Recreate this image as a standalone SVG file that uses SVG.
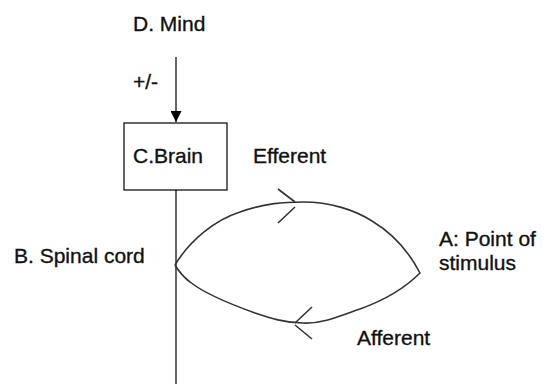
<svg xmlns="http://www.w3.org/2000/svg" width="547" height="387" viewBox="0 0 547 387">
<defs>
<style>
.t{font-family:"Liberation Sans",Arial,sans-serif;font-size:21px;fill:#111;stroke:#111;stroke-width:0.35}
.ln{stroke:#000;stroke-width:1.2;fill:none}
.cv{stroke:#333;stroke-width:1.6;fill:none;stroke-linejoin:round}
</style>
<marker id="ah" viewBox="0 0 10 10" refX="10" refY="5" markerWidth="11" markerHeight="11" markerUnits="userSpaceOnUse" orient="auto">
<path d="M0,0 L10,5 L0,10 z" fill="#000"/>
</marker>
</defs>
<rect width="547" height="387" fill="#fff"/>
<g id="mind"><text class="t" x="133" y="31">D. Mind</text></g>
<g id="brain">
<rect x="124" y="123" width="103" height="67" fill="#fff" stroke="#000" stroke-width="1.2"/>
<text class="t" x="133" y="163">C.Brain</text>
</g>
<g id="spinal"><text class="t" x="14" y="263">B. Spinal cord</text></g>
<g id="stimulus"><text class="t" x="439" y="246">A: Point of</text><text class="t" x="439" y="270">stimulus</text></g>
<g id="labels">
<text class="t" x="133" y="89">+/-</text>
<text class="t" x="253" y="163">Efferent</text>
<text class="t" x="357" y="345">Afferent</text>
</g>
<g id="connectors">
<line class="ln" x1="176" y1="57" x2="176" y2="122" marker-end="url(#ah)"/>
<line class="ln" x1="176" y1="190" x2="176" y2="384"/>
<path class="cv" d="M175,265 C190,240 215,220 240,212 C265,203 285,202 303,202 C330,202 355,210 372,221 C392,233 408,250 420,273 C405,288 385,300 360,309 C340,316 322,324 303,323 C285,323 270,318 255,313 C230,304 205,294 190,282 C182,276 178,270 175,265"/>
<path class="cv" d="M278,189 L295,202 M295,207 L278,223"/>
<path class="cv" d="M312,307 L295,323 M295,325 L312,339"/>
</g>
</svg>
